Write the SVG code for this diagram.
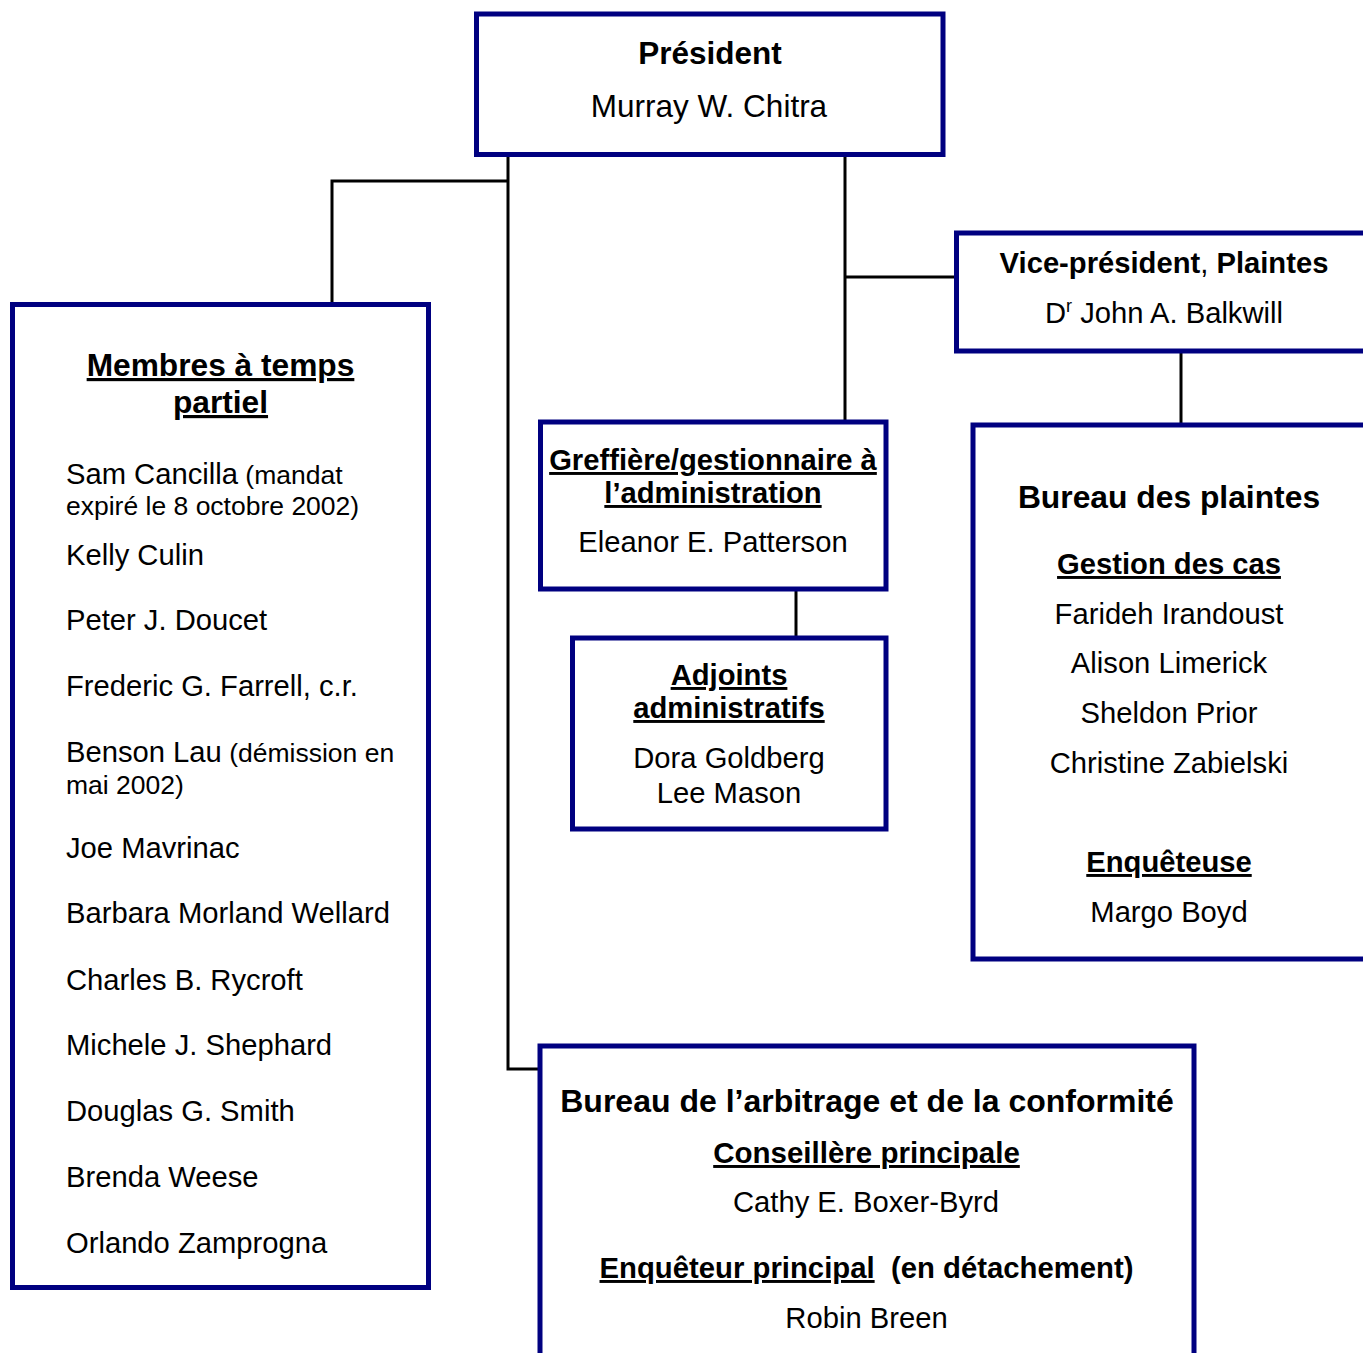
<svg xmlns="http://www.w3.org/2000/svg" width="1363" height="1353" viewBox="0 0 1363 1353">
<style>
.box{fill:#fff;stroke:#000080;stroke-width:5}
.con{fill:none;stroke:#000;stroke-width:3}
text{font-family:"Liberation Sans",Arial,sans-serif;fill:#000}
.c{text-anchor:middle}
.b{font-weight:bold}
.u{text-decoration:underline}
.n{font-size:29.2px}
.s{font-size:26.5px}
</style>
<rect width="1363" height="1353" fill="#fff"/>
<g id="connectors">
<path class="con" d="M508,157 V1069 H545"/>
<path class="con" d="M332,304 V181 H508"/>
<path class="con" d="M845,157 V421"/>
<path class="con" d="M845,277 H956"/>
<path class="con" d="M1181,352 V424"/>
<path class="con" d="M796,589 V646"/>
</g>
<g id="president">
<rect class="box" x="476.5" y="14" width="466.5" height="140.5"/>
<text class="c b" x="710" y="64" font-size="31.5">Président</text>
<text class="c" x="709" y="117" font-size="31.5">Murray W. Chitra</text>
</g>
<g id="vice-president">
<rect class="box" x="956.5" y="233" width="420" height="118"/>
<text class="c n" x="1164" y="273"><tspan class="b">Vice-président</tspan>, <tspan class="b">Plaintes</tspan></text>
<text class="c n" x="1164" y="323">D<tspan font-size="18" dy="-11">r</tspan><tspan dy="11"> John A. Balkwill</tspan></text>
</g>
<g id="membres">
<rect class="box" x="12.5" y="304.5" width="416" height="983"/>
<text class="c b u" x="220.5" y="376" font-size="31.7">Membres à temps</text>
<text class="c b u" x="220.5" y="413" font-size="31.7">partiel</text>
<text class="n" x="66" y="484">Sam Cancilla<tspan class="s"> (mandat</tspan></text>
<text class="s" x="66" y="515">expiré le 8 octobre 2002)</text>
<text class="n" x="66" y="565">Kelly Culin</text>
<text class="n" x="66" y="630">Peter J. Doucet</text>
<text class="n" x="66" y="696">Frederic G. Farrell, c.r.</text>
<text class="n" x="66" y="762">Benson Lau<tspan class="s"> (démission en</tspan></text>
<text class="s" x="66" y="794">mai 2002)</text>
<text class="n" x="66" y="858">Joe Mavrinac</text>
<text class="n" x="66" y="923">Barbara Morland Wellard</text>
<text class="n" x="66" y="990">Charles B. Rycroft</text>
<text class="n" x="66" y="1055">Michele J. Shephard</text>
<text class="n" x="66" y="1121">Douglas G. Smith</text>
<text class="n" x="66" y="1187">Brenda Weese</text>
<text class="n" x="66" y="1253">Orlando Zamprogna</text>
</g>
<g id="greffiere">
<rect class="box" x="540.5" y="422" width="345.5" height="167"/>
<text class="c b u n" x="713" y="470">Greffière/gestionnaire à</text>
<text class="c b u n" x="713" y="503">l’administration</text>
<text class="c n" x="713" y="552">Eleanor E. Patterson</text>
</g>
<g id="adjoints">
<rect class="box" x="572.5" y="638" width="313.5" height="191"/>
<text class="c b u n" x="729" y="685">Adjoints</text>
<text class="c b u n" x="729" y="718">administratifs</text>
<text class="c n" x="729" y="768">Dora Goldberg</text>
<text class="c n" x="729" y="803">Lee Mason</text>
</g>
<g id="bureau-plaintes">
<rect class="box" x="973" y="425" width="400" height="534"/>
<text class="c b" x="1169" y="508" font-size="31.8">Bureau des plaintes</text>
<text class="c b u n" x="1169" y="574">Gestion des cas</text>
<text class="c n" x="1169" y="624">Farideh Irandoust</text>
<text class="c n" x="1169" y="673">Alison Limerick</text>
<text class="c n" x="1169" y="723">Sheldon Prior</text>
<text class="c n" x="1169" y="773">Christine Zabielski</text>
<text class="c b u n" x="1169" y="872">Enquêteuse</text>
<text class="c n" x="1169" y="922">Margo Boyd</text>
</g>
<g id="bureau-arbitrage">
<rect class="box" x="540" y="1046" width="654" height="400"/>
<text class="c b" x="867" y="1112" font-size="32">Bureau de l’arbitrage et de la conformité</text>
<text class="c b u" x="866.5" y="1163" font-size="29.5">Conseillère principale</text>
<text class="c n" x="866" y="1212">Cathy E. Boxer-Byrd</text>
<text class="c b" x="866.5" y="1278" font-size="29.3" style="white-space:pre"><tspan class="u">Enquêteur principal</tspan>  (en détachement)</text>
<text class="c n" x="866.5" y="1328">Robin Breen</text>
</g>
</svg>
